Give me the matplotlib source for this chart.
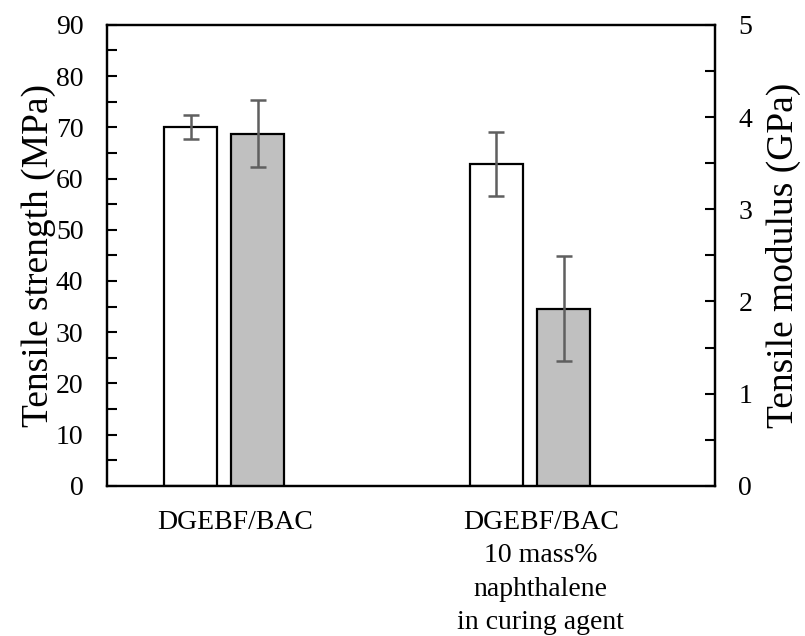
import numpy as np
import matplotlib
matplotlib.use("Agg")
import matplotlib.pyplot as plt
from matplotlib.ticker import MultipleLocator

# Sample groups
categories = ["DGEBF/BAC", "DGEBF/BAC\n10 mass%\nnaphthalene\nin curing agent"]

# Tensile strength (MPa), left axis
strength = [70.1, 62.8]
strength_err = [2.3, 6.2]

# Tensile modulus (GPa), right axis
modulus = [3.82, 1.92]
modulus_err = [0.36, 0.57]

plt.rcParams["font.family"] = ["Liberation Serif", "DejaVu Serif"]

fig = plt.figure(figsize=(8.05, 6.36), dpi=100)
ax = fig.add_axes([0.133, 0.236, 0.755, 0.725])
ax2 = ax.twinx()

x = np.arange(len(categories))
width = 0.173
err_kw = dict(ecolor="#5f5f5f", elinewidth=1.8, capsize=5.5, capthick=1.8)

ax.bar(x - 0.145, strength, width, color="white", edgecolor="black",
       linewidth=1.6, yerr=strength_err, error_kw=err_kw, zorder=2)
ax2.bar(x + 0.075, modulus, width, color="#c0c0c0", edgecolor="black",
        linewidth=1.6, yerr=modulus_err, error_kw=err_kw, zorder=2)

ax.set_xlim(-0.418, 1.569)
ax.set_ylim(0, 90)
ax2.set_ylim(0, 5)

ax.yaxis.set_major_locator(MultipleLocator(10))
ax.yaxis.set_minor_locator(MultipleLocator(5))
ax2.yaxis.set_major_locator(MultipleLocator(1))
ax2.yaxis.set_minor_locator(MultipleLocator(0.5))

ax.set_xticks(x)
ax.set_xticklabels(categories, fontsize=20, linespacing=1.45)
ax.tick_params(axis="x", length=0, pad=17)
ax.tick_params(axis="y", which="both", direction="in", length=7, width=1.5,
               labelsize=20, pad=17)
ax2.tick_params(axis="y", which="both", direction="in", length=7, width=1.5,
                labelsize=20, pad=17)

for a in (ax, ax2):
    for s in a.spines.values():
        s.set_linewidth(1.6)

ax.set_ylabel("Tensile strength (MPa)", fontsize=27, labelpad=0)
ax2.set_ylabel("Tensile modulus (GPa)", fontsize=27, labelpad=10)

fig.savefig("out.png", dpi=100)
